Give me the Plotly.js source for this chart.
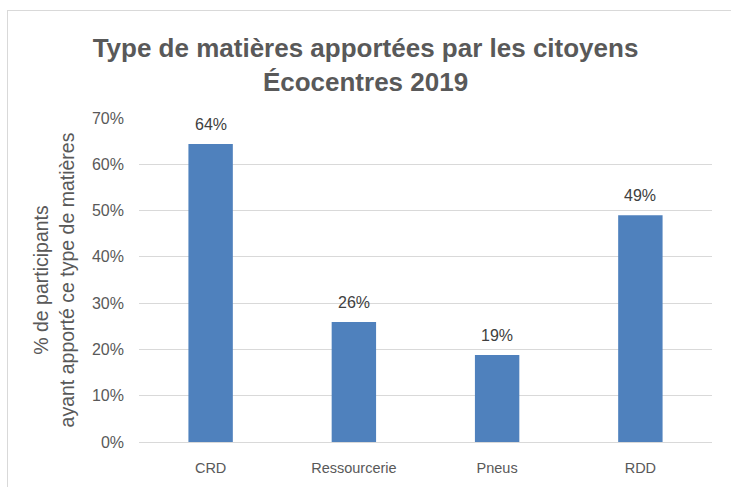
<!DOCTYPE html>
<html><head><meta charset="utf-8">
<script src="https://cdn.plot.ly/plotly-3.0.1.min.js"></script>
<style>
html,body{margin:0;padding:0;width:731px;height:487px;overflow:hidden;background:#fff;}
#frame{position:absolute;left:7px;top:10px;width:800px;height:600px;border:1px solid #d9d9d9;box-sizing:border-box;}
#chart{position:absolute;left:0;top:0;width:731px;height:487px;}
</style></head>
<body>
<div id="frame"></div>
<div id="chart"></div>
<script>
const categories = ["CRD", "Ressourcerie", "Pneus", "RDD"];
const values = [0.644, 0.259, 0.188, 0.490];
const yTickVals = [0, 0.1, 0.2, 0.3, 0.4, 0.5, 0.6, 0.7];
const yTickText = ["0%", "10%", "20%", "30%", "40%", "50%", "60%", "70%"];

const font = "Liberation Sans, Arial, sans-serif";
const labels = categories.map((c, i) => ({
  x: c, y: values[i], xref: "x", yref: "y",
  text: Math.round(values[i] * 100) + "%",
  showarrow: false, yanchor: "bottom", yshift: 9,
  font: {family: font, size: 16, color: "#404040"}
}));

Plotly.newPlot("chart", [{
  type: "bar",
  x: categories,
  y: values,
  width: 0.31,
  marker: {color: "#4f81bd"},
  hoverinfo: "skip"
}], {
  width: 731, height: 487,
  margin: {l: 139, r: 19, t: 118, b: 45},
  paper_bgcolor: "rgba(0,0,0,0)",
  plot_bgcolor: "rgba(0,0,0,0)",
  showlegend: false,
  annotations: labels,
  title: {
    text: "<b>Type de matières apportées par les citoyens<br>Écocentres 2019</b>",
    font: {family: font, size: 26, color: "#595959", lineposition: "none"},
    x: 0.5, xanchor: "center", y: 0.883, yanchor: "top"
  },
  xaxis: {
    tickfont: {family: font, size: 14.5, color: "#595959"},
    showline: false, ticks: "", showgrid: false, zeroline: false,
    ticklabelstandoff: 15
  },
  yaxis: {
    range: [0, 0.7],
    tickvals: yTickVals, ticktext: yTickText,
    tickfont: {family: font, size: 16, color: "#595959"},
    gridcolor: "#d9d9d9", gridwidth: 1,
    zeroline: true, zerolinecolor: "#d9d9d9", zerolinewidth: 1,
    showline: false, ticks: "", ticklen: 0,
    ticklabelstandoff: 14,
    title: {text: "% de participants<br>ayant apporté ce type de matières",
            font: {family: font, size: 19.5, color: "#595959"}, standoff: 12}
  },
  bargap: 0.69
}, {displayModeBar: false, staticPlot: true});
</script>
</body></html>
